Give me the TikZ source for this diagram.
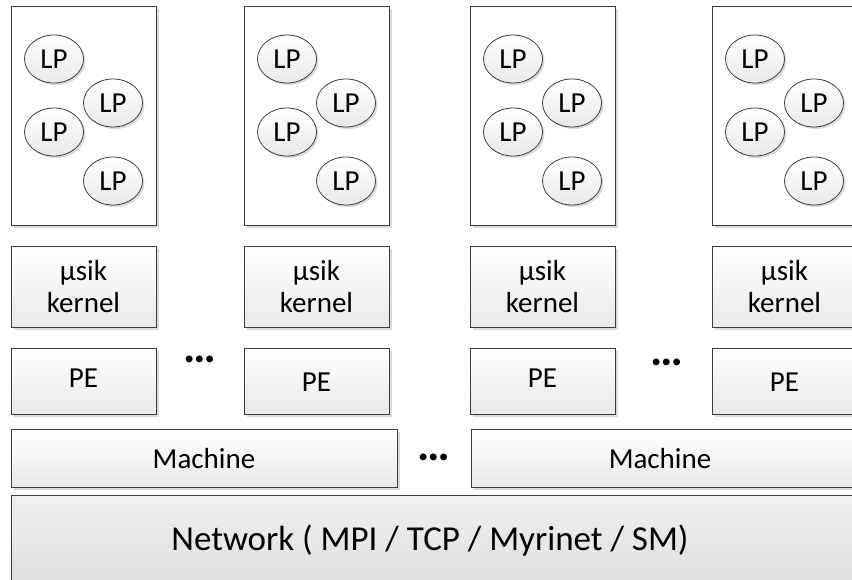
\documentclass[tikz,border=0pt]{standalone}
\usepackage{fontspec}
\setmainfont{Carlito}
\usetikzlibrary{shapes.geometric,shadows}
\definecolor{edge}{HTML}{3C3C3C}
\definecolor{shade}{HTML}{DADADA}
\definecolor{boxlow}{HTML}{E9E9E9}
\definecolor{netup}{HTML}{EFEFEF}
\definecolor{netlow}{HTML}{DEDEDE}
\tikzset{
  base/.style={draw=edge, line width=0.9pt, inner sep=0pt, outer sep=0pt, align=center,
    general shadow={shadow xshift=3pt, shadow yshift=-3pt, fill=shade}},
  lpbox/.style={base, fill=white, minimum width=145pt, minimum height=219pt},
  layer/.style={base, top color=white, bottom color=boxlow},
  kernbox/.style={layer, minimum width=145pt, minimum height=81pt,
    font=\fontsize{29}{32}\selectfont},
  pebox/.style={layer, minimum width=145pt, minimum height=66pt},
  machbox/.style={layer, minimum width=386pt, minimum height=58pt},
  netbox/.style={base, top color=netup, bottom color=netlow, minimum width=847pt, minimum height=100pt},
  lp/.style={ellipse, draw=edge, line width=0.8pt, inner sep=0pt, outer sep=0pt,
    minimum width=59pt, minimum height=48pt, top color=white, bottom color=boxlow,
    general shadow={shadow xshift=2pt, shadow yshift=-2pt, fill=shade},
    font=\fontsize{29}{29}\selectfont},
  lbl/.style={inner sep=0pt, font=\fontsize{29}{29}\selectfont},
  more/.style={inner sep=0pt, font=\fontsize{46}{46}\selectfont\bfseries},
}
\begin{document}
\begin{tikzpicture}[x=1pt,y=-1pt]
\useasboundingbox (0,0) rectangle (852,580);
\clip (0,0) rectangle (852,580);

% network layer
\node[netbox] (net) at (434.5,545) {};
\node[inner sep=0pt, font=\fontsize{35}{35}\selectfont] (nettxt) at (430,541) {Network ( MPI / TCP / Myrinet / SM)};

% machines
\node[machbox] (m1) at (204,458) {};
\node[lbl] (m1t) at (204,459) {Machine};
\node[machbox] (m2) at (664,458) {};
\node[lbl] (m2t) at (660,459) {Machine};
\node[more] (dm) at (434,457) {…};

% four processing columns
\foreach \i/\L/\dy in {1/11/0, 2/244/4, 3/470/0, 4/712/4} {
  \node[lpbox] (lpb\i) at (\L+72.5,115.5) {};
  \node[lp] (lp\i a) at (\L+43,59) {LP};
  \node[lp] (lp\i b) at (\L+102,103) {LP};
  \node[lp] (lp\i c) at (\L+43,132) {LP};
  \node[lp] (lp\i d) at (\L+102,181) {LP};
  \node[kernbox] (k\i) at (\L+72.5,286.5) {µsik\\kernel};
  \node[pebox] (pe\i) at (\L+72.5,381) {};
  \node[lbl] (pe\i t) at (\L+72.5,378+\dy) {PE};
}

\node[more] (d1) at (200,359) {…};
\node[more] (d2) at (667,362) {…};
\end{tikzpicture}
\end{document}
